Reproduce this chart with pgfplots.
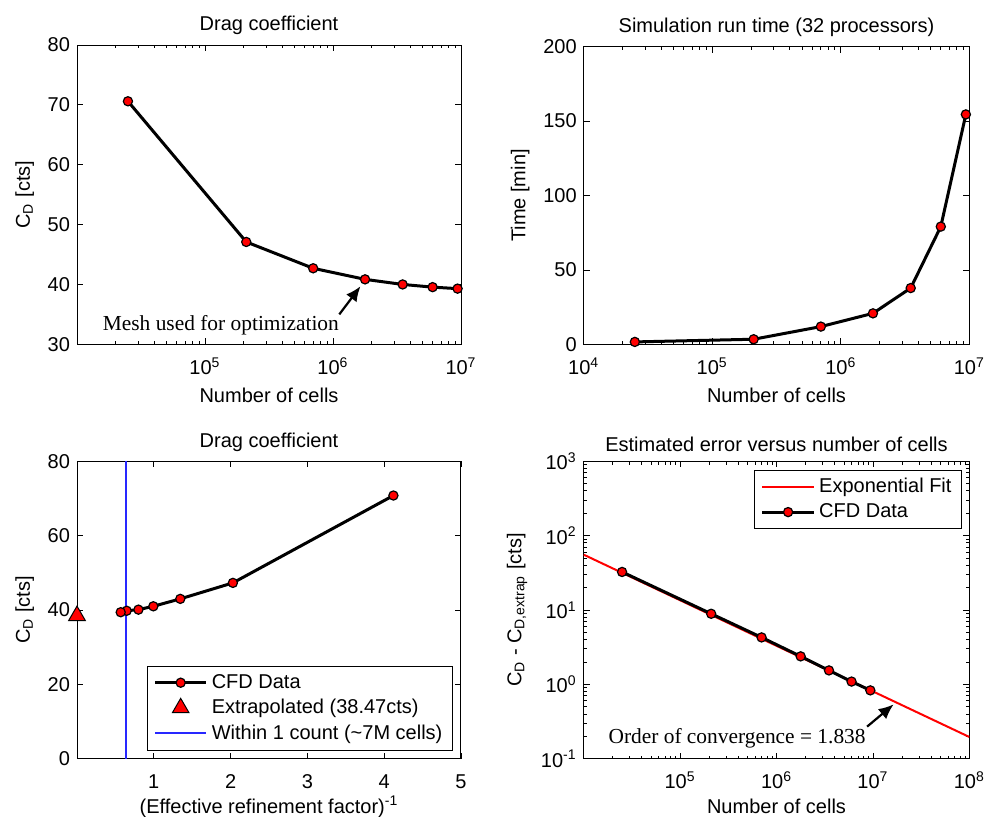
\documentclass[border=0pt]{standalone}
\usepackage{fontspec}
\setmainfont{Liberation Sans}
\newfontfamily\serifann{Liberation Serif}
\usepackage{pgfplots}
\pgfplotsset{compat=1.18}
\usetikzlibrary{arrows.meta}
\definecolor{mblue}{RGB}{40,40,255}

\pgfplotsset{
  myaxis/.style={
    scale only axis,
    anchor=south west,
    /pgf/number format/assume math mode=true,
    axis line style={line width=0.5pt, black},
    every tick/.style={black, line width=0.4pt},
    major tick length=3pt,
    minor tick length=1.6pt,
    tick align=inside,
    title style={yshift=-4.5pt},
    xticklabel style={yshift=-3pt},
    legend cell align=left,
    legend image code/.code={\draw[mark repeat=2,mark phase=2,##1] plot coordinates {(0cm,0cm) (0.45cm,0cm) (0.9cm,0cm)};},
    legend style={draw=black, line width=0.5pt, fill=white, inner xsep=3pt, inner ysep=2pt, row sep=0pt, font=\fontsize{10}{12}\selectfont},
  },
  onemark/.style={legend image code/.code={\draw[##1] plot coordinates {(0.45cm,0cm)};}},
  cfd/.style={black, line width=1.5pt, mark=*, mark size=2.3pt, mark options={fill=red, draw=black, line width=0.6pt}},
}

\begin{document}
\begin{tikzpicture}[font=\fontsize{10}{12}\selectfont]
% ---------- Panel 1 ----------
\begin{axis}[myaxis,
  at={(38.5pt,235.85pt)}, width=192pt, height=149.65pt,
  xmode=log, xmin=1e4, xmax=1e7, ymin=30, ymax=80,
  xtick={1e5,1e6,1e7}, xticklabels={10\textsuperscript{5},10\textsuperscript{6},10\textsuperscript{7}},
  minor xtick={2e4,3e4,4e4,5e4,6e4,7e4,8e4,9e4,2e5,3e5,4e5,5e5,6e5,7e5,8e5,9e5,2e6,3e6,4e6,5e6,6e6,7e6,8e6,9e6},
  ytick={30,40,50,60,70,80},
  title={Drag coefficient},
  xlabel={Number of cells}, ylabel={C\textsubscript{D} [cts]},
]
\addplot[cfd] coordinates {(2.5e4,70.6) (2.1e5,47.1) (7.0e5,42.7) (1.78e6,40.85) (3.5e6,40.0) (6.0e6,39.55) (9.4e6,39.3)};
\draw[-{Latex[length=7.5pt,width=6.5pt]}, line width=1.1pt] (axis cs:1.12e6,35.0) -- (axis cs:1.64e6,39.7);
\node[font=\serifann\fontsize{10.7}{12}\selectfont] at (axis cs:1.33e5,33.2) {Mesh used for optimization};
\end{axis}

% ---------- Panel 2 ----------
\begin{axis}[myaxis,
  at={(291.85pt,235.85pt)}, width=192.8pt, height=148.8pt,
  xmode=log, xmin=1e4, xmax=1e7, ymin=0, ymax=200,
  xtick={1e4,1e5,1e6,1e7}, xticklabels={10\textsuperscript{4},10\textsuperscript{5},10\textsuperscript{6},10\textsuperscript{7}},
  minor xtick={2e4,3e4,4e4,5e4,6e4,7e4,8e4,9e4,2e5,3e5,4e5,5e5,6e5,7e5,8e5,9e5,2e6,3e6,4e6,5e6,6e6,7e6,8e6,9e6},
  ytick={0,50,100,150,200},
  title={Simulation run time (32 processors)},
  xlabel={Number of cells}, ylabel={Time [min]},
]
\addplot[cfd] coordinates {(2.5e4,1.6) (2.1e5,3.4) (7.0e5,11.9) (1.78e6,20.8) (3.5e6,37.8) (6.0e6,79.1) (9.4e6,154.5)};
\end{axis}

% ---------- Panel 3 ----------
\begin{axis}[myaxis,
  at={(38.5pt,28.65pt)}, width=192pt, height=148.7pt,
  xmin=0, xmax=5, ymin=0, ymax=80,
  xtick={1,2,3,4,5}, ytick={0,20,40,60,80},
  xticklabel style={yshift=-1.5pt},
  xlabel style={yshift=3.2pt},
  title={Drag coefficient},
  xlabel={(Effective refinement factor)\textsuperscript{-1}}, ylabel={C\textsubscript{D} [cts]},
  legend style={at={(0.979,0.027)}, anchor=south east},
]
\addplot[cfd] coordinates {(4.12,70.8) (2.03,47.3) (1.345,43.0) (0.994,41.0) (0.80,40.1) (0.647,39.8) (0.569,39.4)};
\addlegendentry{CFD Data}
\addplot[only marks, mark=triangle*, mark size=4.8pt, mark options={fill=red, draw=black, line width=0.5pt}, onemark] coordinates {(0,38.47)};
\addlegendentry{Extrapolated (38.47cts)}
\addplot[color=mblue, draw=mblue, line width=1pt] coordinates {(0.635,0) (0.635,80)};
\addlegendentry{Within 1 count (\textasciitilde 7M cells)}
\end{axis}

% ---------- Panel 4 ----------
\begin{axis}[myaxis,
  at={(291.85pt,28.65pt)}, width=192.8pt, height=148.7pt,
  xmode=log, ymode=log, xmin=1e4, xmax=1e8, ymin=0.1, ymax=1000,
  xtick={1e5,1e6,1e7,1e8}, xticklabels={10\textsuperscript{5},10\textsuperscript{6},10\textsuperscript{7},10\textsuperscript{8}},
  minor xtick={2e4,3e4,4e4,5e4,6e4,7e4,8e4,9e4,2e5,3e5,4e5,5e5,6e5,7e5,8e5,9e5,2e6,3e6,4e6,5e6,6e6,7e6,8e6,9e6,2e7,3e7,4e7,5e7,6e7,7e7,8e7,9e7},
  ytick={0.1,1,10,100,1000}, yticklabels={10\textsuperscript{-1},10\textsuperscript{0},10\textsuperscript{1},10\textsuperscript{2},10\textsuperscript{3}},
  minor ytick={0.2,0.3,0.4,0.5,0.6,0.7,0.8,0.9,2,3,4,5,6,7,8,9,20,30,40,50,60,70,80,90,200,300,400,500,600,700,800,900},
  xlabel style={yshift=2pt},
  title={Estimated error versus number of cells},
  xlabel={Number of cells}, ylabel={C\textsubscript{D} - C\textsubscript{D,extrap} [cts]},
  legend style={at={(0.981,0.972)}, anchor=north east},
]
\addplot[red, line width=1pt] coordinates {(1e4,55.5) (1e8,0.196)};
\addlegendentry{Exponential Fit}
\addplot[cfd] coordinates {(2.5e4,32.5) (2.1e5,8.9) (7.0e5,4.28) (1.78e6,2.38) (3.5e6,1.54) (6.0e6,1.09) (9.4e6,0.83)};
\addlegendentry{CFD Data}
\draw[-{Latex[length=7.5pt,width=6.5pt]}, line width=1.1pt] (axis cs:8.7e6,0.27) -- (axis cs:1.64e7,0.538);
\node[font=\serifann\fontsize{10.7}{12}\selectfont] at (axis cs:3.9e5,0.1875) {Order of convergence = 1.838};
\end{axis}

\pgfresetboundingbox
\path (0,0) rectangle (492pt,408pt);
\end{tikzpicture}
\end{document}
